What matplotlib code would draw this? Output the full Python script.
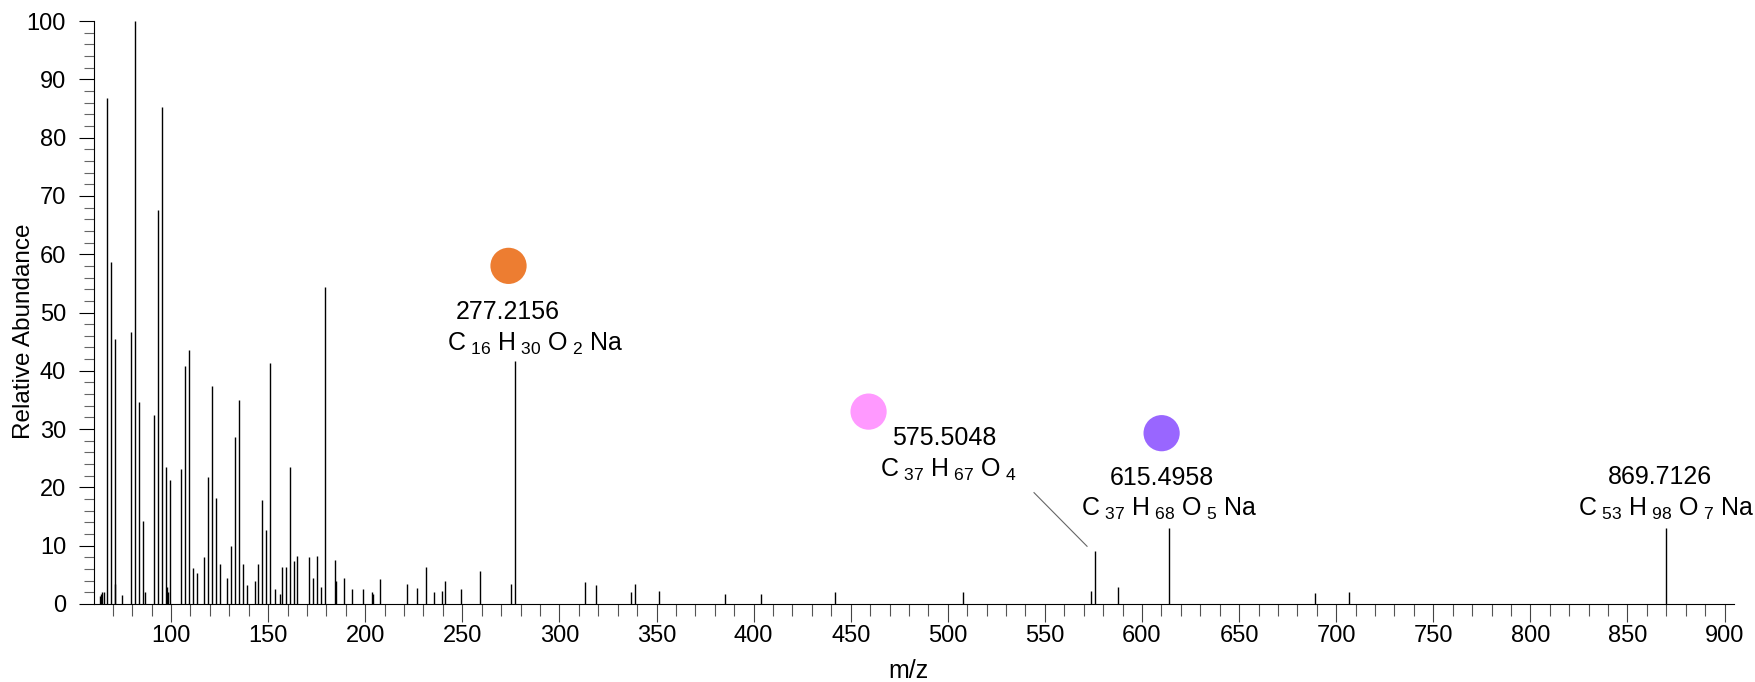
'''
Mass spectrum with annotated peaks (relative abundance vs m/z)
'''
import matplotlib
matplotlib.use("Agg")
import matplotlib.pyplot as plt
from matplotlib.ticker import MultipleLocator

plt.rcParams['font.family'] = ['Liberation Sans', 'DejaVu Sans']
plt.rcParams['mathtext.default'] = 'regular'

# peak list: m/z and relative abundance
mz = [63.3, 63.9, 64.6, 65.3, 67.2, 69.3, 71.0, 71.4, 75.0, 79.5,
      81.4, 83.5, 85.5, 86.4, 91.3, 93.3, 95.3, 97.3, 97.9, 98.4,
      99.3, 105.0, 107.2, 109.2, 111.1, 113.2, 117.1, 119.2, 121.1, 123.1,
      125.2, 128.9, 131.0, 133.2, 135.1, 137.0, 139.2, 143.0, 145.0, 147.1,
      149.1, 151.2, 153.3, 156.2, 157.0, 159.1, 161.1, 163.2, 165.1, 171.2,
      173.1, 175.0, 177.1, 179.1, 184.2, 185.1, 189.0, 193.1, 199.1, 203.3,
      203.9, 207.4, 221.4, 226.8, 231.4, 235.3, 239.3, 241.3, 249.2, 259.2,
      275.3, 277.3, 313.2, 319.0, 337.0, 339.1, 351.3, 385.4, 403.9, 441.9,
      507.9, 573.7, 575.7, 587.6, 613.9, 689.2, 706.5, 869.8]
abundance = [1.4, 1.7, 2.0, 2.1, 86.8, 58.6, 3.5, 45.5, 1.6, 46.6,
             100.0, 34.7, 14.3, 2.1, 32.4, 67.5, 85.2, 23.5, 3.0, 2.0,
             21.2, 23.2, 40.9, 43.6, 6.1, 5.4, 8.0, 21.8, 37.4, 18.2,
             6.8, 4.4, 9.9, 28.6, 35.0, 6.8, 3.2, 4.0, 6.9, 17.8,
             12.7, 41.4, 2.6, 1.7, 6.4, 6.4, 23.5, 7.3, 8.3, 8.1,
             4.4, 8.3, 3.0, 54.3, 7.6, 4.0, 4.4, 2.6, 2.6, 2.1,
             1.8, 4.3, 3.5, 2.7, 6.3, 2.1, 2.2, 3.9, 2.5, 5.6,
             3.5, 41.6, 3.7, 3.3, 2.0, 3.5, 2.3, 1.7, 1.8, 2.0,
             2.0, 2.3, 9.1, 3.0, 13.0, 1.9, 2.1, 13.1]

# peak labels: accurate mass and formula
label_mass = ['277.2156', '575.5048', '615.4958', '869.7126']
label_mass_x = [273.6, 498.1, 610.3, 866.8]
label_mass_y = [48.8, 27.2, 20.4, 20.5]
label_formula = ['C\u2009$_{16}$ H\u2009$_{30}$ O\u2009$_{2}$ Na',
                 'C\u2009$_{37}$ H\u2009$_{67}$ O\u2009$_{4}$',
                 'C\u2009$_{37}$ H\u2009$_{68}$ O\u2009$_{5}$ Na',
                 'C\u2009$_{53}$ H\u2009$_{98}$ O\u2009$_{7}$ Na']
label_formula_x = [287.5, 500.3, 614.0, 870.2]
label_formula_y = [43.4, 21.8, 15.1, 15.1]

# coloured markers over the labelled peaks
dot_x = [273.8, 459.2, 610.1]
dot_y = [58.0, 33.0, 29.3]
dot_colors = ['#ED7D31', '#FF99FF', '#9966FF']

# leader line from the 575 label down to its peak
leader_x = [544.4, 571.7]
leader_y = [19.1, 9.9]


def plot_spectrum():
    fig = plt.figure(figsize=(17.55, 6.82), dpi=100)
    ax = fig.add_axes([94.3 / 1755, 78 / 682, 1640 / 1755, 583 / 682])

    ax.vlines(mz, 0, abundance, color='black', lw=1.0)

    for x, y, s in zip(label_mass_x, label_mass_y, label_mass):
        ax.text(x, y, s, ha='center', va='baseline', fontsize=18)
    for x, y, s in zip(label_formula_x, label_formula_y, label_formula):
        ax.text(x, y, s, ha='center', va='baseline', fontsize=18)

    ax.plot(leader_x, leader_y, color='#666666', lw=0.8)
    ax.scatter(dot_x, dot_y, s=680, c=dot_colors, linewidths=0, zorder=3, clip_on=False)

    ax.set_xlim(60.5, 905)
    ax.set_ylim(0, 100)

    # axes look: only left and bottom
    ax.spines['top'].set_visible(False)
    ax.spines['right'].set_visible(False)
    ax.spines['left'].set_linewidth(0.8)
    ax.spines['bottom'].set_linewidth(0.8)

    ax.xaxis.set_major_locator(MultipleLocator(50))
    ax.xaxis.set_minor_locator(MultipleLocator(10))
    ax.yaxis.set_major_locator(MultipleLocator(10))
    ax.yaxis.set_minor_locator(MultipleLocator(2))

    ax.tick_params(axis='x', which='major', length=13, width=0.8, pad=2,
                   color='#444444', labelsize=17)
    ax.tick_params(axis='x', which='minor', length=8.6, width=0.8, color='#555555')
    ax.tick_params(axis='y', which='major', length=10.8, width=0.8, pad=9.5,
                   color='black', labelsize=17)
    ax.tick_params(axis='y', which='minor', length=7.4, width=0.8, color='#666666')

    ax.set_xlabel('m/z', fontsize=18, va='baseline')
    ax.xaxis.set_label_coords(0.4966, -0.127)
    ax.set_ylabel('Relative Abundance', fontsize=17.5, va='center')
    ax.yaxis.set_label_coords(-0.043, 0.467)

    fig.savefig('out.png', dpi=100)


if __name__ == "__main__":
    plot_spectrum()
